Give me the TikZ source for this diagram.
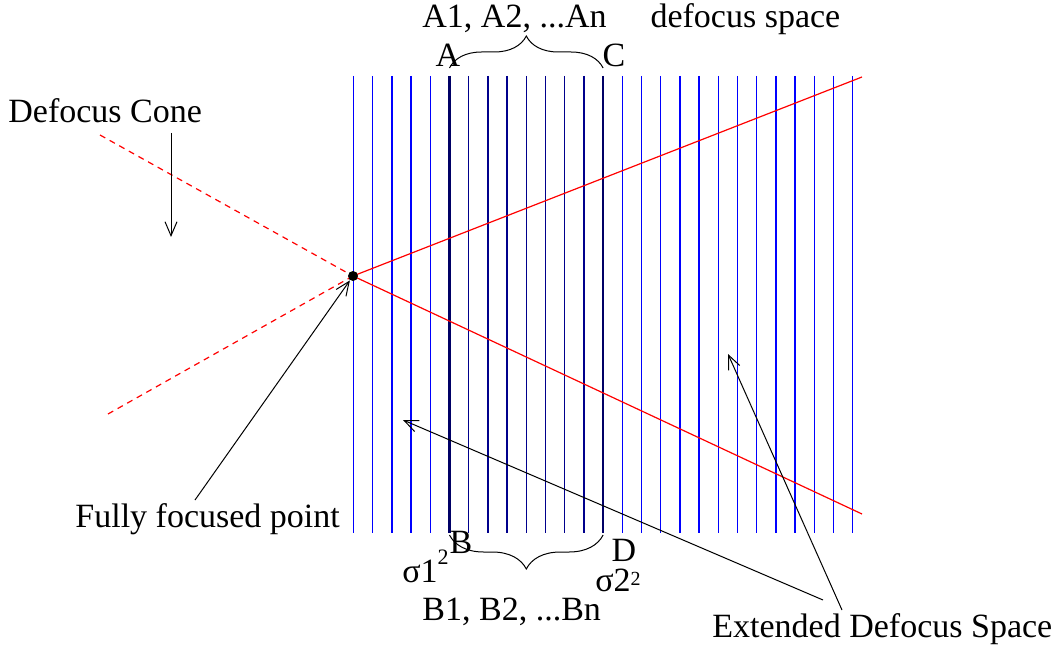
\documentclass[tikz,border=0pt]{standalone}
\usepackage{fontspec}
\setmainfont{Liberation Serif}
\usetikzlibrary{arrows.meta,decorations.pathreplacing}

\begin{document}
\begin{tikzpicture}[x=0.5pt,y=-0.5pt,>={Straight Barb[length=7pt,width=6pt]},
  lbl/.style={font=\fontsize{17}{20}\selectfont,inner sep=0pt},
  plane/.style={blue,line width=0.7pt},
  inplane/.style={blue!55!black,line width=0.7pt},
  keyplane/.style={blue!40!black,line width=1.1pt},
  cone/.style={red,line width=0.6pt},
  ghost/.style={cone,dash pattern=on 3pt off 2.5pt},
  arr/.style={->,line width=0.5pt},
  brc/.style={decorate,line width=0.5pt}]
\useasboundingbox (0,0) rectangle (1059,652);
% image planes
\foreach \i in {0,...,4,14,15,...,26}
  \draw[plane] ({353.5+19.2*\i},76) -- ({353.5+19.2*\i},533);
\foreach \i in {6,...,12}
  \draw[inplane] ({353.5+19.2*\i},76) -- ({353.5+19.2*\i},533);
\draw[keyplane] (449.5,76) -- (449.5,533);
\draw[keyplane] (603.1,76) -- (603.1,533);
% cone
\coordinate (apex) at (353,276);
\coordinate (upEnd) at (862,77);
\coordinate (loEnd) at (862,514);
\coordinate (upBack) at (100,135);
\coordinate (loBack) at (108,414);
\draw[cone] (apex) -- (upEnd);
\draw[cone] (apex) -- (loEnd);
\draw[ghost] (upBack) -- (apex);
\draw[ghost] (loBack) -- (apex);
\node[circle,fill=black,inner sep=0pt,minimum size=5pt] (focus) at (apex) {};
% braces
\coordinate (Atop) at (449.5,68);
\coordinate (Ctop) at (603.1,68);
\coordinate (Bbot) at (449.5,535);
\coordinate (Dbot) at (603.1,535);
\draw[brc,decoration={brace,amplitude=16pt}] (Atop) -- (Ctop);
\draw[brc,decoration={brace,amplitude=17pt}] (Dbot) -- (Bbot);
% labels
\node[lbl,anchor=base west] (topLbl) at (422,28) {A1, A2, ...An\hspace{22pt}defocus space};
\node[lbl,anchor=base] (A) at (448,67) {A};
\node[lbl,anchor=base] (C) at (614,67) {C};
\node[lbl,anchor=base] (B) at (461,553) {B};
\node[lbl,anchor=base] (D) at (624,561) {D};
\node[lbl,anchor=base west] (sigA) at (402,582) {σ1\raisebox{9pt}{\fontsize{11}{11}\selectfont 2}};
\node[lbl,anchor=base west] (sigB) at (595,591) {σ2\raisebox{3pt}{\fontsize{10}{10}\selectfont 2}};
\node[lbl,anchor=base west] (botLbl) at (422,620) {B1, B2, ...Bn};
\node[lbl,anchor=base west] (coneLbl) at (8,123) {Defocus Cone};
\node[lbl,anchor=base west] (focusLbl) at (75,527) {Fully focused point};
\node[lbl,anchor=base west] (extLbl) at (712,637) {Extended Defocus Space};
% pointers
\coordinate (coneTail) at (171,133);
\coordinate (coneTip) at (171,237);
\coordinate (focusTail) at (195,500);
\coordinate (extTailA) at (823,600);
\coordinate (extTailB) at (842,610);
\coordinate (extTipA) at (403,420);
\coordinate (extTipB) at (728,354);
\draw[arr] (coneTail) -- (coneTip);
\draw[arr] (focusTail) -- (focus);
\draw[arr] (extTailA) -- (extTipA);
\draw[arr] (extTailB) -- (extTipB);
\end{tikzpicture}
\end{document}
